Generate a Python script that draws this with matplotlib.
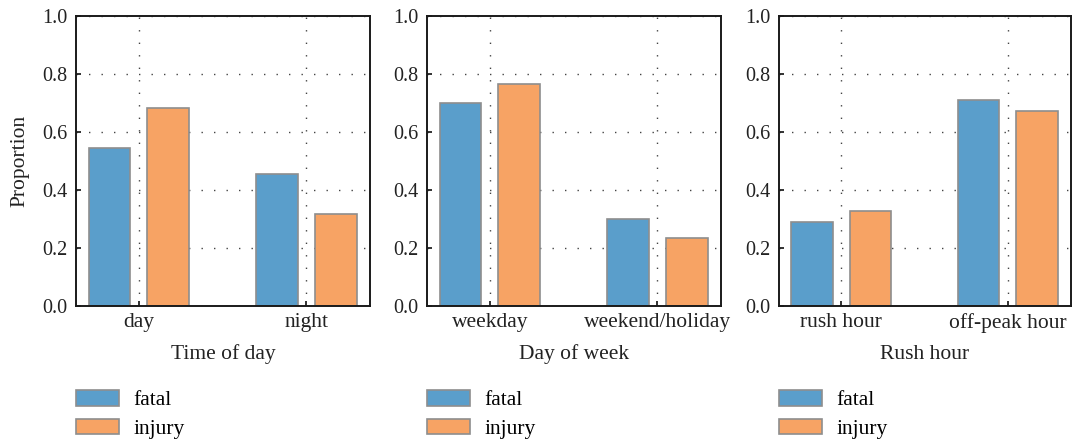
import matplotlib
matplotlib.use("Agg")
import matplotlib.pyplot as plt
import numpy as np
from matplotlib.patches import Patch

plt.rcParams['font.family'] = ['Liberation Serif', 'DejaVu Serif']

# Data
cats_time = ["day", "night"]
fatal_time = [0.545, 0.455]
injury_time = [0.683, 0.317]

cats_week = ["weekday", "weekend/holiday"]
fatal_week = [0.700, 0.300]
injury_week = [0.765, 0.235]

cats_rush = ["rush hour", "off-peak hour"]
fatal_rush = [0.290, 0.710]
injury_rush = [0.327, 0.673]

xlabels = ["Time of day", "Day of week", "Rush hour"]
series_names = ["fatal", "injury"]
yticks = [0.0, 0.2, 0.4, 0.6, 0.8, 1.0]

BLUE = "#5a9ecb"
ORANGE = "#f7a364"
EDGE = "#8e8e8e"
FS = 15.5
FSY = 14.5

W, H = 1072, 441
fig = plt.figure(figsize=(W / 100, H / 100), dpi=100)

panels = [
    (cats_time, fatal_time, injury_time, 76, 370),
    (cats_week, fatal_week, injury_week, 427, 721),
    (cats_rush, fatal_rush, injury_rush, 779, 1071),
]
top_px, bot_px = 15.7, 306

for i, (cats, fatal, injury, l, r) in enumerate(panels):
    ax = fig.add_axes([l / W, 1 - bot_px / H, (r - l) / W, (bot_px - top_px) / H])
    x = np.arange(len(cats))
    bw = 0.25
    ax.bar(x - 0.175, fatal, bw, color=BLUE, edgecolor=EDGE, linewidth=1.2, zorder=2)
    ax.bar(x + 0.175, injury, bw, color=ORANGE, edgecolor=EDGE, linewidth=1.2, zorder=2)
    ax.set_xlim(-0.375, 1.38)
    ax.set_ylim(0, 1.0)
    ax.set_xticks(x)
    ax.set_xticklabels(cats, fontsize=FS)
    ax.set_yticks(yticks)
    ax.set_yticklabels([f"{v:.1f}" for v in yticks], fontsize=FSY)
    ax.set_axisbelow(True)
    ax.grid(True, color="#444444", linestyle=(0, (1, 8)), linewidth=1.0)
    ax.tick_params(direction="in", length=3.5, width=1.3, top=False, right=False, pad=6, colors="#222222")
    ax.tick_params(axis="x", pad=5)
    for sp in ax.spines.values():
        sp.set_linewidth(1.4)
        sp.set_color("#1a1a1a")
    ax.set_xlabel(xlabels[i], fontsize=FS, labelpad=9, color="#222222")
    if i == 0:
        ax.set_ylabel("Proportion", fontsize=FS, labelpad=9, color="#222222")

    handles = [Patch(facecolor=BLUE, edgecolor=EDGE, linewidth=1.2, label=series_names[0]),
               Patch(facecolor=ORANGE, edgecolor=EDGE, linewidth=1.2, label=series_names[1])]
    fig.legend(handles=handles, loc="upper left", bbox_to_anchor=(l / W, 1 - 390 / H),
               bbox_transform=fig.transFigure, frameon=False, fontsize=FS,
               handlelength=2.0, handleheight=0.75, handletextpad=0.65,
               labelspacing=0.38, borderpad=0, borderaxespad=0)

fig.savefig("out.png", dpi=100)
